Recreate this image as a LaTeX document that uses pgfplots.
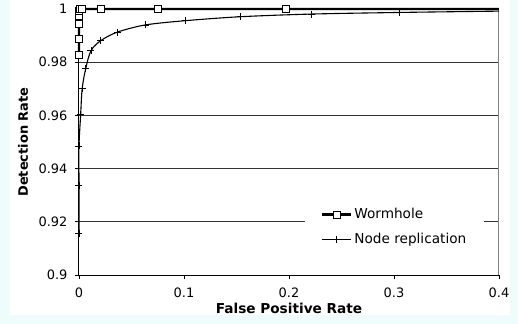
\documentclass[border=0pt]{standalone}
\usepackage{fontspec}
\setmainfont{DejaVu Sans}
\usepackage{pgfplots}
\pgfplotsset{compat=1.18}
\definecolor{bgcyan}{RGB}{238,252,252}
\begin{document}
\begin{tikzpicture}
\fill[bgcyan] (-79bp,-49bp) rectangle (439bp,275bp);
\fill[white] (-69bp,-40bp) rectangle (431bp,275bp);
\begin{axis}[
  at={(0,0)}, anchor=south west,
  scale only axis, width=420bp, height=266bp,
  xmin=0, xmax=0.4, ymin=0.9, ymax=1,
  clip=false,
  axis x line*=bottom, axis y line*=left,
  axis line style={black, line width=1bp},
  xtick={0,0.1,0.2,0.3,0.4},
  ytick={0.9,0.92,0.94,0.96,0.98,1},
  ymajorgrids, grid style={black!80, line width=1bp},
  tick align=outside, major tick length=4bp,
  tick style={black, line width=0.8bp},
  /pgf/number format/assume math mode=true,
  tick label style={font=\fontsize{13}{15}\selectfont},
  yticklabel style={xshift=-4bp},
  xticklabel style={yshift=-5bp},
  xlabel={False Positive Rate},
  xlabel style={at={(axis description cs:0.5,-0.124)}, anchor=center, font=\bfseries\fontsize{13.7}{16}\selectfont},
  ylabel={Detection Rate},
  ylabel style={at={(axis description cs:-0.1333,0.5)}, anchor=center, font=\bfseries\fontsize{13}{16}\selectfont},
  legend style={draw=none, fill=white, at={(0.538,0.1786)}, anchor=west,
    font=\fontsize{13.7}{16}\selectfont, inner xsep=16bp, inner ysep=8bp,
    row sep=8bp, nodes={inner sep=2bp, text height=10bp, text depth=3bp}},
  legend cell align=left,
  legend image code/.code={\draw[sharp plot, mark indices={2}] plot coordinates {(0bp,0.5bp)(14.5bp,0.5bp)(29bp,0.5bp)};},
]
\draw[gray, line width=1bp] (rel axis cs:1,0) -- (rel axis cs:1,1);
\addplot[black, line width=2.2bp, mark=square*, mark size=3.5bp,
  mark options={fill=white, draw=black, line width=0.8bp, solid},
  mark indices={1,...,10}] coordinates {
  (0,0.9827) (0,0.9887) (0,0.9943) (0,0.9975) (0,0.9993)
  (0.001,1) (0.0025,1) (0.0207,1) (0.0755,1) (0.197,1) (0.4,1)
};
\addlegendentry{Wormhole}
\addplot[black, line width=1.1bp, smooth, mark=+, mark size=3.5bp,
  mark options={line width=0.8bp},
  mark indices={1,...,14}] coordinates {
  (0,0.9157) (0,0.9336) (0,0.9485) (0.0016,0.9604) (0.003,0.970)
  (0.0064,0.9776) (0.0114,0.9843) (0.0207,0.9881) (0.0365,0.9913)
  (0.063,0.994) (0.101,0.9956) (0.154,0.9971) (0.2216,0.9981)
  (0.305,0.9987) (0.4,0.9992)
};
\addlegendentry{Node replication}
\end{axis}
\end{tikzpicture}
\end{document}
